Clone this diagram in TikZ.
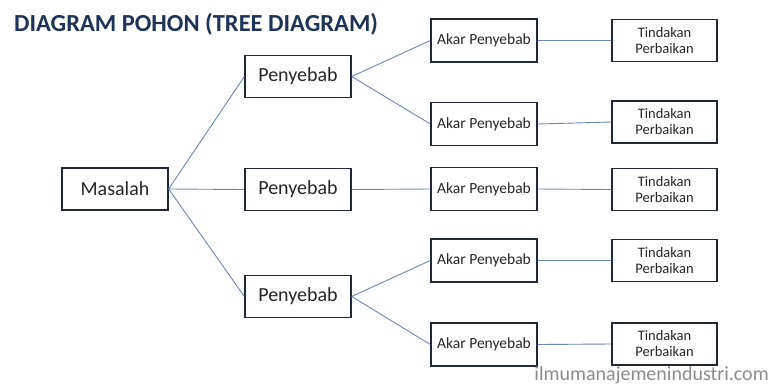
\documentclass[tikz,border=0pt]{standalone}
\usepackage{fontspec}
\setmainfont{Carlito}
\definecolor{titleblue}{HTML}{1F3358}
\definecolor{boxline}{HTML}{1E2838}
\definecolor{linkblue}{HTML}{6A88B8}
\definecolor{markgray}{HTML}{8C8C8C}
\tikzset{
  box/.style={draw=boxline, line width=1.3pt, fill=white, inner sep=0pt,
    align=center, text=black!85},
  bigbox/.style={box, minimum width=106pt, minimum height=42pt, font=\fontsize{20}{22}\selectfont},
  rootbox/.style={box, minimum width=106pt, minimum height=43pt, font=\fontsize{15.5}{18}\selectfont},
  fixbox/.style={box, minimum width=105pt, minimum height=42pt, font=\fontsize{14.5}{16}\selectfont},
  link/.style={draw=linkblue, line width=0.9pt}
}
\begin{document}
\begin{tikzpicture}[x=1pt, y=-1pt]
\useasboundingbox (0,0) rectangle (781,386);
\fill[white] (0,0) rectangle (781,386);

% title
\node[anchor=base west, inner sep=0pt, text=titleblue,
      font=\fontsize{24.5}{26}\selectfont\bfseries] (title) at (14,31)
  {DIAGRAM POHON (TREE DIAGRAM)};

% problem
\node[bigbox] (masalah) at (115,189) {Masalah};

% causes
\node[bigbox] (p1) at (298,76.5) {Penyebab};
\node[bigbox] (p2) at (298,189.5) {Penyebab};
\node[bigbox] (p3) at (298,296.5) {Penyebab};

% root causes
\node[rootbox] (a1) at (484,40.5) {Akar Penyebab};
\node[rootbox] (a2) at (484,124) {Akar Penyebab};
\node[rootbox] (a3) at (484,189) {Akar Penyebab};
\node[rootbox] (a4) at (484,260.5) {Akar Penyebab};
\node[rootbox] (a5) at (484,344.5) {Akar Penyebab};

% corrective actions
\node[fixbox] (t1) at (664.5,40.5) {Tindakan\\Perbaikan};
\node[fixbox] (t2) at (664.5,122) {Tindakan\\Perbaikan};
\node[fixbox] (t3) at (664.5,189.5) {Tindakan\\Perbaikan};
\node[fixbox] (t4) at (664.5,260.5) {Tindakan\\Perbaikan};
\node[fixbox] (t5) at (664.5,344) {Tindakan\\Perbaikan};

% connectors
\path[link] (masalah.east) -- (p1.west)
            (masalah.east) -- (p2.west)
            (masalah.east) -- (p3.west)
            (p1.east) -- (a1.west)
            (p1.east) -- (a2.west)
            (p2.east) -- (a3.west)
            (p3.east) -- (a4.west)
            (p3.east) -- (a5.west)
            (a1.east) -- (t1.west)
            (a2.east) -- (t2.west)
            (a3.east) -- (t3.west)
            (a4.east) -- (t4.west)
            (a5.east) -- (t5.west);

% watermark
\node[anchor=base east, inner sep=0pt, text=markgray,
      font=\fontsize{20}{22}\selectfont] (mark) at (769,380)
  {ilmumanajemenindustri.com};
\end{tikzpicture}
\end{document}
